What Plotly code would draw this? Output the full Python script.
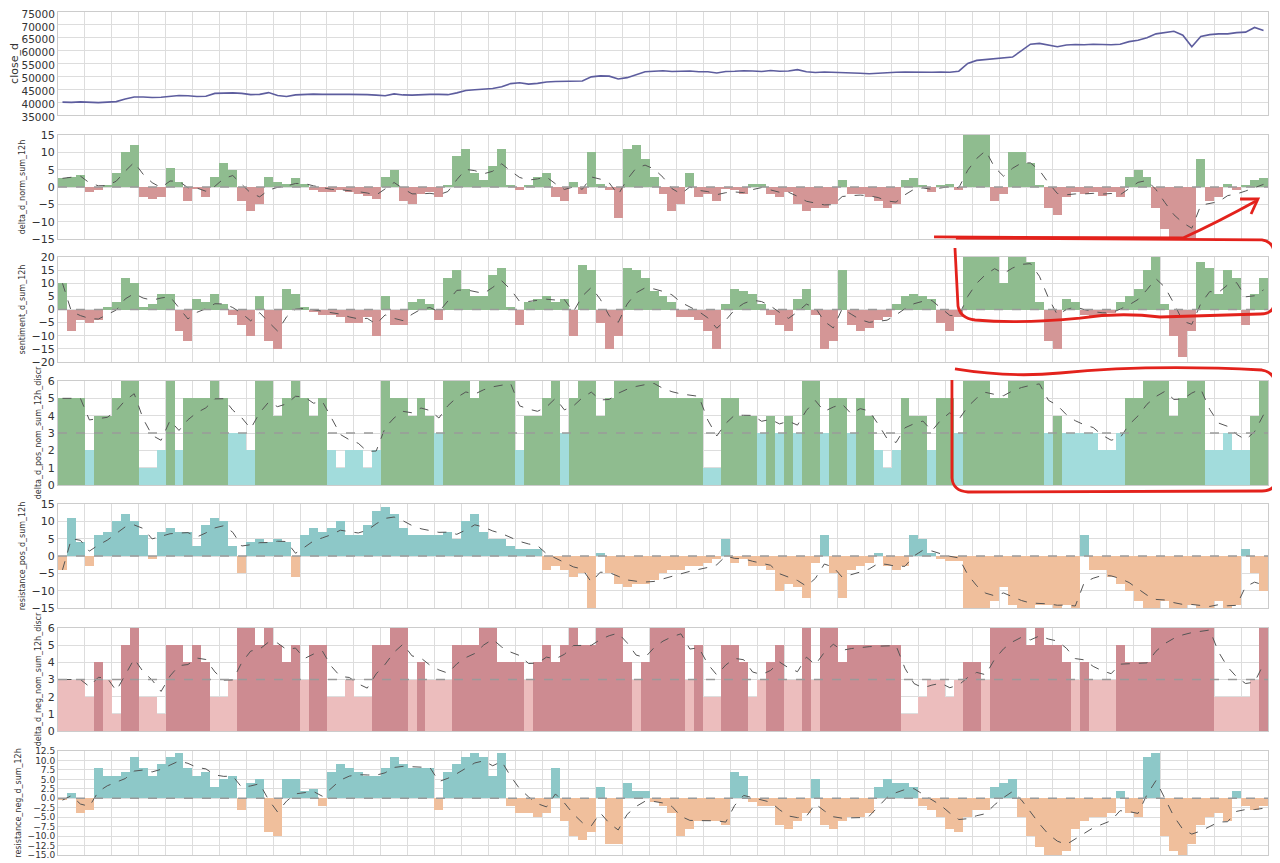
import numpy as np
import pandas as pd
import plotly.graph_objects as go
from plotly.subplots import make_subplots

# values, 3 samples per vertical grid interval (45 intervals)
close_d = [
    40000, 39900, 40100, 40000, 39800, 40000, 40200, 41200, 42000, 42000, 41800, 41900,
    42200, 42600, 42500, 42200, 42300, 43400, 43500, 43600, 43400, 42900, 43000, 43700,
    42600, 42200, 42800, 43000, 43100, 43000, 43100, 43000, 43000, 43000, 42900, 42700,
    42500, 43200, 42800, 42700, 42900, 43000, 43000, 42900, 43600, 44500, 44800, 45000,
    45300, 46000, 47200, 47500, 47000, 47300, 47800, 48000, 48100, 48000, 48200, 49800,
    50200, 50100, 49000, 49500, 50500, 51800, 52000, 52200, 51900, 52000, 52100, 51800,
    51800, 51300, 51900, 52000, 52200, 52100, 51900, 52300, 52000, 52100, 52600, 51800,
    51500, 51700, 51600, 51400, 51500, 51200, 51000, 51200, 51600, 51600, 51700, 51600,
    51700, 51600, 51700, 51600, 52000, 55000, 56200, 56500, 56800, 57000, 57500, 60000,
    62500, 62800, 62000, 61500, 62200, 62400, 62300, 62500, 62400, 62300, 62500, 63500,
    64000, 65000, 66500, 67000, 67500, 66000, 61500, 65500, 66200, 66500, 66500, 67000,
    67200, 69000, 67800,
]
delta_d_norm_sum_12h = [
    2.5, 3, 3.5, -1.5, -1, 0.5, 4, 10, 12, -3, -3.5, -3, 5.5, 1.5, -4, -0.5, -3, 3,
    7, 5, -4, -7, -5, 3, 1.5, 1, 2.5, 1, -1, -1.5, -1.5, -1, -1.5, -2, -2.5, -3.5,
    3, 5, -4, -5, -2, -1.5, -3, 0.5, 9, 11, 4, 2, 6, 11, 0.5, -1, 0.5, 3,
    4, -3, -4, 1.5, -2, 10, 1, -1, -9, 11, 12, 8, 3, -2, -7, -5, 4, -3,
    -2, -4, -0.5, -1, -2, 1, 1, -2, -3, -1.5, -5, -7, -6, -6, -5, 2, -2, -2,
    -3, -4, -6, -5, 2, 2.5, 0.5, -1.5, 0.5, 1, -1, 15, 15, 15, -4, -2, 10, 10,
    7, 0.5, -6, -8, -3, -1.5, -2, -1.5, -2.5, -1.5, -3, 3, 5, 3, -6, -12, -15, -15,
    -15, 8, -4, -3, 1, -1, 0.5, 2, 2.5,
]
sentiment_d_sum_12h = [
    10, -8, -4, -5, -4, 1, 3, 12, 10, 1, 2, 6, 6, -8, -12, 4, 3, 6,
    2, -2, -6, -10, 5, -12, -15, 8, 6, 1, -1, -2, -2, -3, -5, -5, -3, -10,
    5, -6, -6, 3, 4, 2, -4, 12, 15, 8, 5, 5, 13, 16, 1, -6, 3, 4,
    5, 3, 4, -10, 17, 15, -5, -15, -10, 16, 15, 12, 7, 5, 3, -3, -3, -4,
    -8, -15, 2, 8, 7, 6, 2, -2, -6, -8, 4, 8, -2, -15, -12, 15, -6, -8,
    -7, -4, -3, 2, 5, 6, 5, 4, -5, -8, -3, 20, 20, 20, 20, 10, 20, 20,
    18, 3, -12, -15, 4, 3, -2, -2.5, -2, -1.5, 3, 5, 8, 15, 20, 2, -10, -18,
    -8, 18, 16, 6, 15, 12, -6, 6, 12,
]
delta_d_pos_nom_sum_12h_discr = [
    5, 5, 5, 2, 4, 4, 5, 6, 6, 1, 1, 2, 6, 2, 5, 5, 5, 6,
    5, 3, 3, 2, 6, 6, 4, 5, 6, 5, 4, 5, 2, 1, 2, 2, 1, 2,
    6, 5, 5, 4, 5, 4, 3, 6, 6, 6, 5, 6, 6, 6, 6, 2, 4, 4,
    5, 6, 3, 5, 6, 6, 4, 5, 6, 6, 6, 6, 6, 5, 5, 5, 5, 5,
    1, 1, 5, 5, 4, 4, 3, 4, 3, 4, 3, 6, 6, 3, 5, 5, 3, 5,
    4, 2, 1, 2, 5, 4, 4, 2, 5, 5, 3, 6, 6, 6, 5, 5, 6, 6,
    6, 6, 3, 4, 3, 3, 3, 3, 2, 2, 3, 5, 5, 6, 6, 6, 4, 5,
    6, 6, 2, 2, 3, 2, 2, 4, 6,
]
resistance_pos_d_sum_12h = [
    -4, 11, 4, -3, 6, 7, 10, 12, 10, 6, -1, 7, 8, 7, 7, 3, 9, 11,
    10, 3, -5, 4, 5, 4, 5, 4, -6, 6, 8, 7, 8, 10, 6, 6, 9, 13,
    14, 12, 8, 6, 6, 6, 6, 7, 5, 10, 12, 7, 5, 5, 3, 2, 2, 2,
    -4, -3, -4, -6, -5, -15, 1, -5, -8, -9, -8, -8, -7, -5, -4, -4, -3, -3,
    -2, -1, 5, -2, -1, -3, -3, -4, -10, -8, -9, -12, -2, 6, -5, -12, -4, -3,
    -2, 1, -3, -4, -3, 6, 5, 1, -1, -1.5, -1.5, -15, -15, -15, -13, -9, -14, -15,
    -15, -14, -14, -15, -14, -15, 6, -4, -4, -6, -8, -10, -13, -15, -15, -13, -15, -15,
    -14, -15, -15, -13, -15, -14, 2, -5, -10,
]
delta_d_neg_nom_sum_12h_discr = [
    3, 3, 3, 2, 4, 3, 1, 5, 6, 2, 2, 1, 5, 5, 4, 5, 4, 2,
    2, 3, 6, 6, 5, 6, 5, 4, 5, 3, 5, 5, 2, 2, 3, 2, 2, 5,
    5, 6, 6, 3, 4, 3, 3, 3, 5, 5, 5, 6, 6, 4, 4, 4, 3, 4,
    5, 4, 5, 6, 5, 5, 6, 6, 6, 4, 3, 4, 6, 6, 6, 6, 3, 5,
    2, 2, 5, 5, 4, 2, 3, 4, 5, 3, 3, 6, 3, 6, 6, 4, 5, 5,
    5, 5, 5, 5, 1, 1, 2, 3, 3, 2, 3, 4, 4, 3, 6, 6, 6, 6,
    5, 6, 5, 5, 4, 3, 4, 3, 3, 3, 5, 4, 4, 4, 6, 6, 6, 6,
    6, 6, 6, 2, 2, 2, 2, 3, 6,
]
resistance_neg_d_sum_12h = [
    -0.5, 1.5, -4, -3, 8, 6, 6, 7, 11, 8, 6, 9, 11, 12, 8, 6, 7, 3,
    5, 6, -3, 4, 5, -9, -10, 5, 5, 2, 2.5, -2, 7, 9, 8, 7, 6, 6,
    8, 11, 9, 8, 8, 8, -3, 7, 9, 11, 12, 11, 6, 12, -2, -4, -4, -5,
    -4, 8, -6, -10, -11, -9, 3, -12, -12, 4, 2, 2, -1, -2, -4, -10, -8, -6,
    -6, -6, -7, 7, 6, -1, -2, -2, -7, -8, -6, -4, 5, -7, -8, -6, -5, -5,
    -4, 3, 5, 4, 4, 3, -2, -3, -5, -8, -9, -5, -3, -3, 3, 4, 5, -5,
    -10, -13, -15, -15, -14, -8, -6, -5, -5, -4, 2, -4, -5, 11, 12, -10, -14, -15,
    -12, -7, -5, -4, -6, 2, -2, -3, -2,
]

GREEN, RED = "#8fbc8f", "#d49696"
CYAN = "#a2dcdc"
TEAL, ORANGE = "#8dc8c8", "#f0bf9c"
DARKRED, PINK = "#cd8b91", "#ecbdbd"

# (title, values, y range, dtick, baseline, colour above, colour below)
panels = [
    ("delta_d_norm_sum_12h", delta_d_norm_sum_12h, [-15, 15], 5, 0, GREEN, RED),
    ("sentiment_d_sum_12h", sentiment_d_sum_12h, [-20, 20], 5, 0, GREEN, RED),
    ("delta_d_pos_nom_sum_12h_discr", delta_d_pos_nom_sum_12h_discr, [0, 6], 1, 3, GREEN, CYAN),
    ("resistance_pos_d_sum_12h", resistance_pos_d_sum_12h, [-15, 15], 5, 0, TEAL, ORANGE),
    ("delta_d_neg_nom_sum_12h_discr", delta_d_neg_nom_sum_12h_discr, [0, 6], 1, 3, DARKRED, PINK),
    ("resistance_neg_d_sum_12h", resistance_neg_d_sum_12h, [-15, 12.5], 2.5, 0, TEAL, ORANGE),
]

n = len(close_d)
x = np.arange(n) + 0.5

fig = make_subplots(rows=7, cols=1, shared_xaxes=True)

fig.add_trace(go.Scatter(x=x, y=close_d, mode="lines",
                         line=dict(color="#5d5d9e", width=1.6)), row=1, col=1)

for i, (name, vals, rng, dt, base, c_hi, c_lo) in enumerate(panels, start=2):
    s = pd.Series(vals, dtype=float)
    colors = [c_hi if v > base else c_lo for v in s]
    fig.add_trace(go.Bar(x=x, y=s, width=1.0, marker=dict(color=colors, line=dict(width=0))),
                  row=i, col=1)
    ma = s.ewm(span=5).mean()
    fig.add_trace(go.Scatter(x=x, y=ma, mode="lines",
                             line=dict(color="#555555", width=1, dash="dash")), row=i, col=1)
    fig.add_hline(y=base, line=dict(color="#9a9a9a", width=1.5, dash="dash"), row=i, col=1)
    fig.update_yaxes(title_text=name, range=rng, dtick=dt, title_font=dict(size=8),
                     row=i, col=1)

# the page puts the figure 8px in from the top-left corner; layout below is in page pixels
OFF = 8
W, H = 1280 - OFF, 863 - OFF
L, R = 58 - OFF, 1280 - OFF - 1260
tops = [12, 135, 257, 381, 504, 628, 751]
bottoms = [115, 239, 362, 485, 608, 731, 855]
for i, (t, b) in enumerate(zip(tops, bottoms), start=1):
    key = "yaxis" if i == 1 else f"yaxis{i}"
    fig.layout[key].domain = [1 - (b - OFF) / H, 1 - (t - OFF) / H]

fig.update_xaxes(range=[0, n], dtick=3, tick0=0, showticklabels=False, ticks="",
                 showgrid=True, gridcolor="#dddddd", gridwidth=1, automargin=False,
                 showline=True, linecolor="#cccccc", mirror=True, zeroline=False)
fig.update_yaxes(showgrid=True, gridcolor="#dddddd", gridwidth=1, ticks="", automargin=False,
                 showline=True, linecolor="#cccccc", mirror=True, zeroline=False,
                 ticklabeloverflow="allow",
                 tickfont=dict(size=11, color="#333333"), title_standoff=4)
fig.update_yaxes(title_text="close_d", range=[35000, 75000], dtick=5000, tickformat="d",
                 title_font=dict(size=11), tickfont=dict(size=10.5), ticklabelshift=2,
                 row=1, col=1)
fig.update_yaxes(tickformat=".1f", tickfont=dict(size=9), row=7, col=1)


# hand-drawn red markings, given in page pixels
def px(xp, yp):
    return f"{(xp - OFF - L) / (W - L - R):.4f},{1 - (yp - OFF) / H:.4f}"


def path(cmds):
    out = []
    for c, *pts in cmds:
        out.append(c + " " + " ".join(px(pts[k], pts[k + 1]) for k in range(0, len(pts), 2)))
    return " ".join(out)


red = dict(color="#e3221c", width=2.8)
marks = [
    [("M", 934, 237), ("L", 1183, 238), ("Q", 1218, 222, 1256, 201)],
    [("M", 1240, 199), ("L", 1258, 199), ("L", 1251, 214)],
    [("M", 956, 238), ("L", 1262, 240), ("Q", 1274, 242, 1274, 254), ("L", 1274, 304),
     ("Q", 1273, 314, 1260, 314), ("L", 1160, 317), ("Q", 1120, 312, 1080, 318),
     ("Q", 1020, 324, 975, 320), ("Q", 960, 318, 958, 306), ("L", 955, 248)],
    [("M", 955, 369), ("Q", 1010, 378, 1060, 373), ("Q", 1150, 364, 1262, 370),
     ("Q", 1274, 372, 1275, 384), ("L", 1275, 482), ("Q", 1274, 491, 1262, 491),
     ("L", 968, 492), ("Q", 953, 491, 952, 478), ("L", 952, 380)],
]
for m in marks:
    fig.add_shape(type="path", path=path(m), xref="paper", yref="paper", line=red,
                  fillcolor="rgba(0,0,0,0)", layer="above")

fig.update_layout(width=W, height=H, margin=dict(l=L, r=R, t=0, b=0, autoexpand=False),
                  plot_bgcolor="white", paper_bgcolor="white", showlegend=False,
                  bargap=0, font=dict(family="DejaVu Sans", color="#333333"))

fig.write_html("out.html")
